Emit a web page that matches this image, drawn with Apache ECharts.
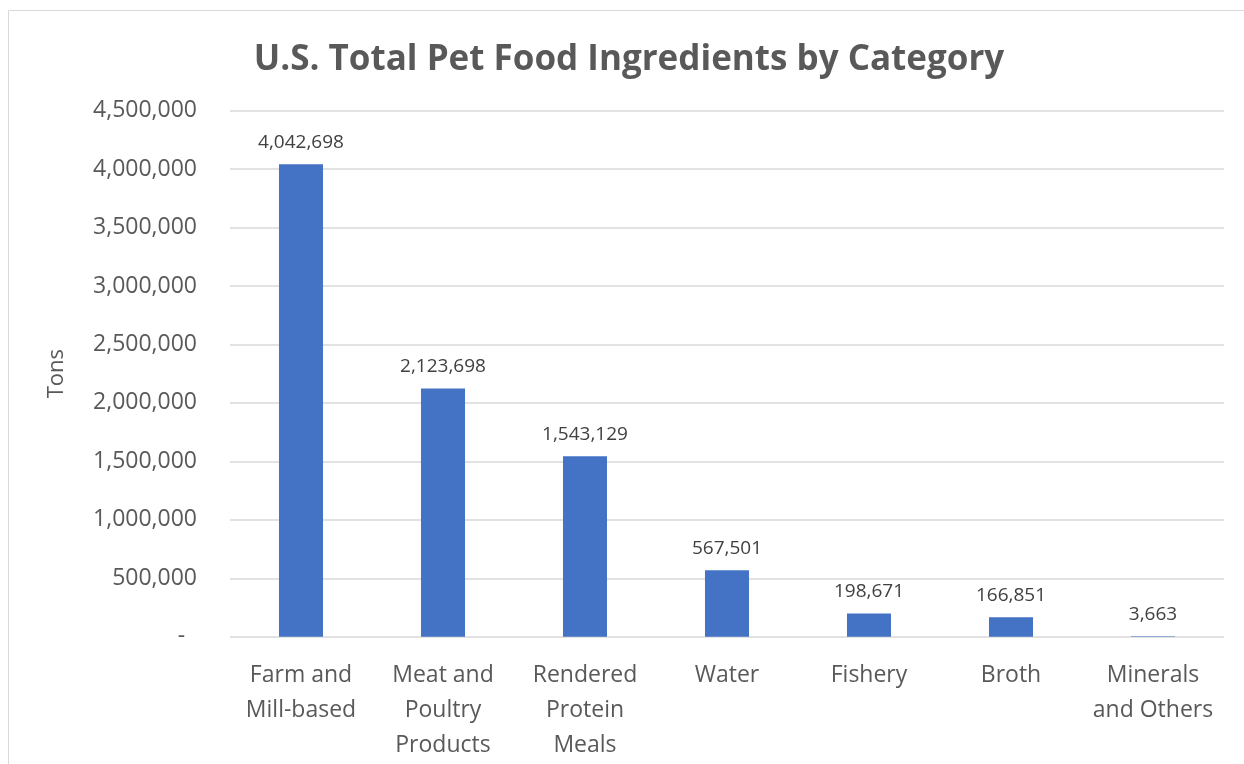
<!DOCTYPE html>
<html>
<head>
<meta charset="utf-8">
<script src="https://cdn.jsdelivr.net/npm/echarts@6/dist/echarts.min.js"></script>
<style>
  html, body { margin: 0; padding: 0; background: #ffffff; }
  #chart { width: 1244px; height: 764px; }
</style>
</head>
<body>
<div id="chart"></div>
<script>
// Pet food ingredient tonnage by category
const categories = [
  'Farm and\nMill-based',
  'Meat and\nPoultry\nProducts',
  'Rendered\nProtein\nMeals',
  'Water',
  'Fishery',
  'Broth',
  'Minerals\nand Others'
];
const tons = [4042698, 2123698, 1543129, 567501, 198671, 166851, 3663];

const yMin = 0;
const yMax = 4500000;
const yStep = 500000;

const FONT = '"Open Sans", "Liberation Sans", sans-serif';
const fmt = v => v.toLocaleString('en-US');

const chart = echarts.init(document.getElementById('chart'));
chart.setOption({
  animation: false,
  backgroundColor: '#ffffff',
  title: {
    text: 'U.S. Total Pet Food Ingredients by Category',
    left: 624,
    top: 38,
    textAlign: 'center',
    textStyle: { fontFamily: FONT, fontSize: 35, fontWeight: 'bold', color: '#595959' }
  },
  graphic: [{
    type: 'rect',
    shape: { x: 8.5, y: 10.5, width: 1240, height: 760 },
    style: { fill: 'none', stroke: '#d9d9d9', lineWidth: 1 },
    silent: true
  }],
  grid: { left: 230, right: 20, top: 110.7, bottom: 127.3 },
  xAxis: {
    type: 'category',
    data: categories,
    axisLine: { show: false },
    axisTick: { show: false },
    axisLabel: {
      interval: 0,
      margin: 21,
      fontFamily: FONT,
      fontSize: 23,
      lineHeight: 35,
      color: '#595959'
    }
  },
  yAxis: {
    type: 'value',
    min: yMin,
    max: yMax,
    interval: yStep,
    name: 'Tons',
    nameLocation: 'middle',
    nameGap: 162,
    nameTextStyle: { fontFamily: FONT, fontSize: 22, color: '#595959' },
    axisLine: { show: false },
    axisTick: { show: false },
    splitLine: { lineStyle: { color: '#d9d9d9', width: 1.5 } },
    axisLabel: {
      margin: 33,
      fontFamily: FONT,
      fontSize: 23,
      color: '#595959',
      formatter: v => (v === 0 ? '-  ' : fmt(v))
    }
  },
  series: [{
    type: 'bar',
    data: tons,
    barWidth: '31%',
    itemStyle: { color: '#4472c4' },
    label: {
      show: true,
      position: 'top',
      distance: 12,
      fontFamily: FONT,
      fontSize: 19,
      color: '#404040',
      formatter: p => fmt(p.value)
    }
  }]
});
</script>
</body>
</html>
